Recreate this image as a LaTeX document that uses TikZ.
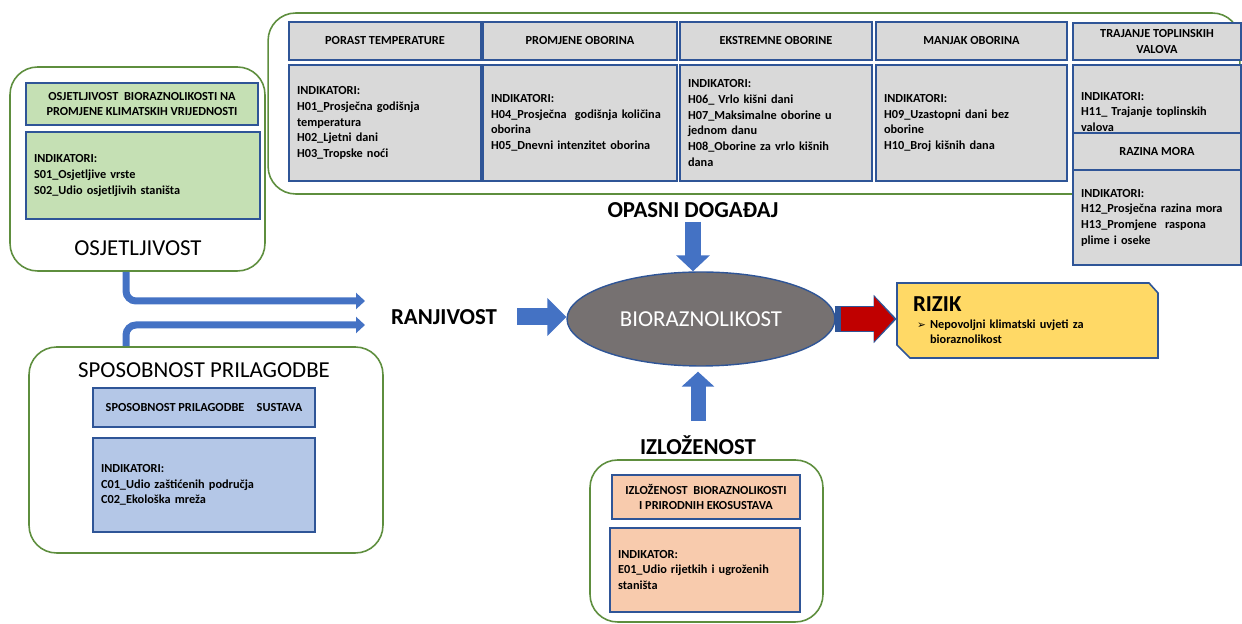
\documentclass[tikz,border=0pt]{standalone}
\usepackage{fontspec}
\setmainfont{Carlito}
\newfontfamily\dejavu{DejaVu Sans}
\usetikzlibrary{arrows.meta, positioning, shapes.geometric}

\definecolor{boxline}{HTML}{2F5597}
\definecolor{panelgreen}{HTML}{5E8E3E}
\definecolor{hazgray}{HTML}{D9D9D9}
\definecolor{sensgreen}{HTML}{C5E0B4}
\definecolor{capblue}{HTML}{B4C7E7}
\definecolor{expsalmon}{HTML}{F8CBAD}
\definecolor{arrowblue}{HTML}{4472C4}
\definecolor{riskred}{HTML}{C00000}
\definecolor{riskyellow}{HTML}{FFD966}
\definecolor{biogray}{HTML}{767171}

\begin{document}
\begin{tikzpicture}[x=0.02cm, y=-0.02cm,
    panel/.style={draw=panelgreen, line width=0.9pt, rounded corners=0.55cm},
    boxhead/.style={draw=boxline, line width=0.8pt, inner sep=0pt, align=center,
        font=\fontsize{7}{8.9}\selectfont\bfseries},
    boxbody/.style={draw=boxline, line width=0.8pt, inner ysep=0pt, inner xsep=0.16cm, align=left,
        font=\fontsize{7}{8.9}\selectfont\bfseries},
    biglabel/.style={inner sep=0pt, font=\fontsize{13}{15}\selectfont},
    boldlabel/.style={inner sep=0pt, font=\fontsize{13}{15}\selectfont\bfseries},
    pipe/.style={draw=arrowblue, line width=0.14cm, rounded corners=0.2cm,
        -{Triangle[width=0.32cm, length=0.18cm]}},
    blockarrow/.style={draw=arrowblue, line width=0.32cm, -{Triangle[width=0.66cm, length=0.32cm]}},
    riskbox/.style={draw=boxline, line width=0.9pt, fill=riskyellow}]

    \useasboundingbox (0,0) rectangle (1242,624);

    \node[panel, minimum width=19.44cm, minimum height=3.62cm] (hazard) at (754,103.5) {};
    \node[panel, minimum width=5.1cm, minimum height=4.08cm] (osjet) at (137.5,169) {};
    \node[panel, minimum width=7.08cm, minimum height=4.12cm] (sposob) at (206,450) {};
    \node[panel, minimum width=4.66cm, minimum height=3.24cm] (izlpanel) at (706.5,541) {};

    \node[boxhead, fill=hazgray, minimum width=3.84cm, minimum height=0.76cm] (h1head) at (385,41) {PORAST TEMPERATURE};
    \node[boxhead, fill=hazgray, minimum width=3.88cm, minimum height=0.76cm] (h2head) at (580,41) {PROMJENE OBORINA};
    \node[boxhead, fill=hazgray, minimum width=3.84cm, minimum height=0.76cm] (h3head) at (776,41) {EKSTREMNE OBORINE};
    \node[boxhead, fill=hazgray, minimum width=3.82cm, minimum height=0.76cm] (h4head) at (971.5,41) {MANJAK OBORINA};
    \node[boxhead, fill=hazgray, minimum width=3.36cm, minimum height=0.74cm] (h5head) at (1157,41.5) {TRAJANJE TOPLINSKIH\\VALOVA};

    \node[boxbody, fill=hazgray, text width=3.52cm, minimum height=2.32cm] (h1body) at (385,123)
        {INDIKATORI:\\H01\_Prosječna godišnja\\temperatura\\H02\_Ljetni dani\\H03\_Tropske noći};
    \node[boxbody, fill=hazgray, text width=3.56cm, minimum height=2.32cm] (h2body) at (580,123)
        {INDIKATORI:\\H04\_Prosječna\ \ godišnja količina\\oborina\\H05\_Dnevni intenzitet oborina};
    \node[boxbody, fill=hazgray, text width=3.52cm, minimum height=2.32cm] (h3body) at (776,123)
        {INDIKATORI:\\H06\_ Vrlo kišni dani\\H07\_Maksimalne oborine u\\jednom danu\\H08\_Oborine za vrlo kišnih\\dana};
    \node[boxbody, fill=hazgray, text width=3.5cm, minimum height=2.32cm] (h4body) at (971.5,123)
        {INDIKATORI:\\H09\_Uzastopni dani bez\\oborine\\H10\_Broj kišnih dana};
    \node[boxbody, fill=hazgray, text width=3.04cm, minimum height=1.88cm] (h5body) at (1157,112)
        {INDIKATORI:\\H11\_ Trajanje toplinskih\\valova};
    \node[boxhead, fill=hazgray, minimum width=3.36cm, minimum height=0.74cm] (h6head) at (1157,151.5) {RAZINA MORA};
    \node[boxbody, fill=hazgray, text width=3.04cm, minimum height=1.9cm] (h6body) at (1157,217.5)
        {INDIKATORI:\\H12\_Prosječna razina mora\\H13\_Promjene\ \ raspona\\plime i oseke};

    \node[boxhead, fill=sensgreen, minimum width=4.64cm, minimum height=0.84cm] (osjethead) at (142,104)
        {OSJETLJIVOST\ \ BIORAZNOLIKOSTI NA\\PROMJENE KLIMATSKIH VRIJEDNOSTI};
    \node[boxbody, fill=sensgreen, text width=4.36cm, minimum height=1.74cm] (osjetbody) at (143,175.5)
        {INDIKATORI:\\S01\_Osjetljive vrste\\S02\_Udio osjetljivih staništa};
    \node[biglabel] (osjetlabel) at (138,248) {OSJETLJIVOST};

    \node[biglabel] (sposoblabel) at (204,370) {SPOSOBNOST PRILAGODBE};
    \node[boxhead, fill=capblue, minimum width=4.44cm, minimum height=0.78cm] (sposobhead) at (204,407.5)
        {SPOSOBNOST PRILAGODBE\quad SUSTAVA};
    \node[boxbody, fill=capblue, text width=4.12cm, minimum height=1.88cm] (sposobbody) at (204,485)
        {INDIKATORI:\\C01\_Udio zaštićenih područja\\C02\_Ekološka mreža};

    \node[boldlabel] (izlozenost) at (698,445) {IZLOŽENOST};
    \node[boxhead, fill=expsalmon, minimum width=3.76cm, minimum height=0.88cm] (izlhead) at (706,497)
        {IZLOŽENOST\ \ BIORAZNOLIKOSTI\\I PRIRODNIH EKOSUSTAVA};
    \node[boxbody, fill=expsalmon, text width=3.48cm, minimum height=1.68cm] (izlbody) at (705,570)
        {INDIKATOR:\\E01\_Udio rijetkih i ugroženih\\staništa};

    \node[ellipse, biglabel, fill=biogray, draw=boxline, line width=0.8pt, text=white,
        minimum width=5.36cm, minimum height=1.88cm] (bio) at (701,319) {BIORAZNOLIKOST};
    \node[boldlabel] (opasni) at (693,210) {OPASNI DOGAĐAJ};
    \node[boldlabel] (ranjivost) at (444,317) {RANJIVOST};

    \draw[riskbox] (897,283) -- (1149,283) -- (1158,293) -- (1158,358) -- (910,358) -- (897,345) -- cycle;
    \node[text width=4.58cm, inner xsep=0.32cm, inner ysep=0pt, minimum height=1.5cm, align=left,
        font=\fontsize{7}{8.5}\selectfont\bfseries] (rizik) at (1027.5,320.5)
        {{\fontsize{13}{15}\selectfont RIZIK}\\[1.2pt]
         \hspace*{0.08cm}\makebox[0.26cm][l]{\dejavu\fontsize{6}{8}\selectfont ➢}Nepovoljni klimatski uvjeti za\\
         \hspace*{0.34cm}bioraznolikost};

    \coordinate (pipe1end) at (365,301);
    \coordinate (pipe2end) at (365,325);
    \draw[pipe] ([xshift=-0.23cm]osjet.south) |- (pipe1end);
    \draw[pipe] ([xshift=-1.6cm]sposob.north) |- (pipe2end);

    \draw[blockarrow, line width=0.34cm, -{Triangle[width=0.74cm, length=0.38cm]}, shorten <=0.4cm]
        (ranjivost.east) -- (ranjivost.east -| bio.west);
    \draw[blockarrow, shorten <=0.08cm] (opasni.south) -- (opasni.south |- bio.north);
    \draw[blockarrow, line width=0.3cm, -{Triangle[width=0.64cm, length=0.3cm]}, shorten <=0.28cm, shorten >=0.1cm]
        (izlozenost.north) -- (izlozenost.north |- bio.south);
    \draw[blockarrow, draw=boxline, line width=0.52cm, -{Triangle[width=0.94cm, length=0.46cm]}, shorten <=-0.02cm]
        (bio.east) -- (bio.east -| rizik.west);
    \draw[blockarrow, draw=riskred, line width=0.48cm, -{Triangle[width=0.86cm, length=0.4cm]},
        shorten <=0.1cm, shorten >=0.05cm]
        (bio.east) -- (bio.east -| rizik.west);
\end{tikzpicture}
\end{document}
